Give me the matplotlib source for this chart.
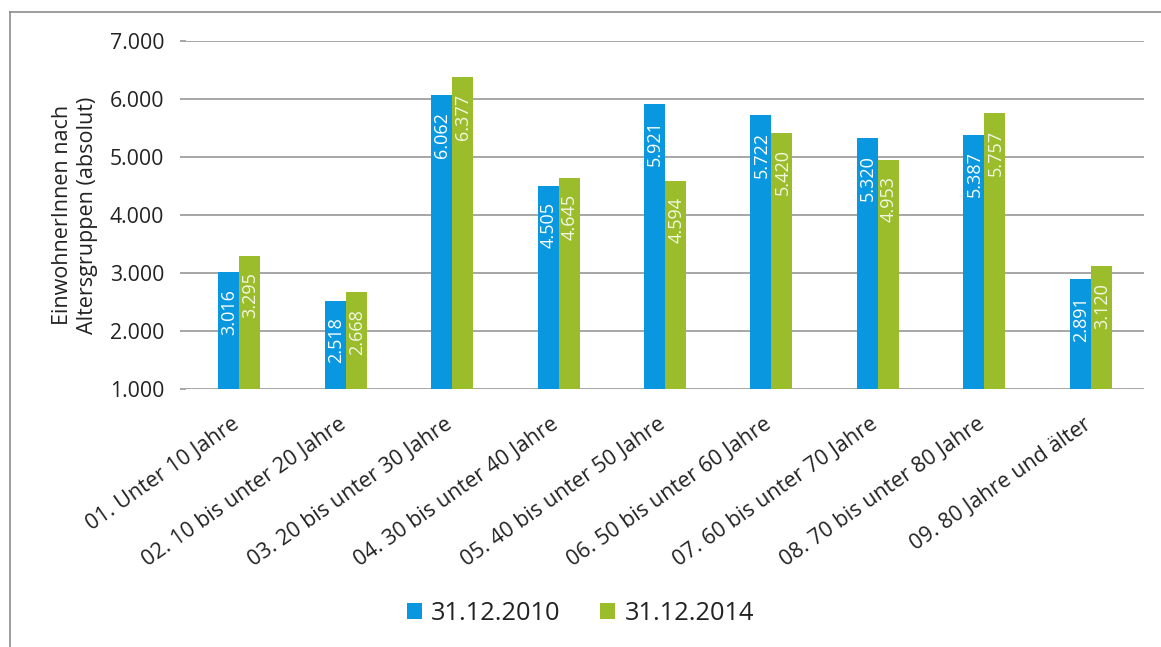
import matplotlib.pyplot as plt
import numpy as np
from matplotlib.lines import Line2D
from matplotlib.transforms import ScaledTranslation

plt.rcParams['font.family'] = ['Open Sans', 'DejaVu Sans']

categories = ['01. Unter 10 Jahre', '02. 10 bis unter 20 Jahre', '03. 20 bis unter 30 Jahre',
              '04. 30 bis unter 40 Jahre', '05. 40 bis unter 50 Jahre', '06. 50 bis unter 60 Jahre',
              '07. 60 bis unter 70 Jahre', '08. 70 bis unter 80 Jahre', '09. 80 Jahre und älter']
stand_2010 = [3016, 2518, 6062, 4505, 5921, 5722, 5320, 5387, 2891]
stand_2014 = [3295, 2668, 6377, 4645, 4594, 5420, 4953, 5757, 3120]
series_names = ['31.12.2010', '31.12.2014']
yticks = [1000, 2000, 3000, 4000, 5000, 6000, 7000]

blue = '#0998e0'
green = '#9bbd2c'
text_col = '#222222'
grid_col = '#a6a6a6'


def de_format(v):
    return f'{v:,.0f}'.replace(',', '.')


fig = plt.figure(figsize=(11.61, 6.47), dpi=100)
ax = fig.add_axes([186 / 1161, 1 - 389 / 647, (1144 - 186) / 1161, 348 / 647])

x = np.arange(len(categories))
w = 0.197
b1 = ax.bar(x - w / 2, stand_2010, w, color=blue, label=series_names[0], zorder=3)
b2 = ax.bar(x + w / 2, stand_2014, w, color=green, label=series_names[1], zorder=3)

for bars, vals, tc in ((b1, stand_2010, 'white'), (b2, stand_2014, '#f3f6e4')):
    for rect, v in zip(bars, vals):
        ax.annotate(de_format(v), (rect.get_x() + rect.get_width() / 2, v),
                    xytext=(0.5, -12), textcoords='offset points',
                    rotation=90, ha='center', va='top', fontsize=13,
                    color=tc, zorder=4)

ax.set_ylim(1000, 7000)
ax.set_xlim(-0.5, len(categories) - 0.5)
ax.set_yticks(yticks)
ax.set_yticklabels([de_format(t) for t in yticks], fontsize=15.3, color=text_col)
ax.yaxis.grid(True, color=grid_col, linewidth=1.4, zorder=0)
ax.tick_params(axis='y', length=4.3, width=1.4, color=grid_col, pad=11.5)
ax.tick_params(axis='x', length=0, pad=18)
for s in ax.spines.values():
    s.set_visible(False)

ax.set_xticks(x)
ax.set_xticklabels(categories, rotation=35, ha='right', va='top',
                   rotation_mode='anchor', fontsize=15.5, color=text_col)
shift = ScaledTranslation(-8 / 100, 0, fig.dpi_scale_trans)
for lbl in ax.get_xticklabels():
    lbl.set_transform(lbl.get_transform() + shift)

ax.set_ylabel('EinwohnerInnen nach\nAltersgruppen (absolut)', fontsize=15.5,
              color=text_col, labelpad=8, linespacing=1.25)

fig.legend(handles=[b1, b2], loc='center', bbox_to_anchor=(0.5, 0.0525), ncol=2,
           frameon=False, fontsize=18.3, handlelength=0.6, handleheight=0.6,
           handletextpad=0.35, columnspacing=1.55, labelcolor=text_col)

# outer frame
fig.add_artist(Line2D([0.0086, 1.0], [0.982, 0.982], transform=fig.transFigure,
                      color='#8c8c8c', linewidth=1.2))
fig.add_artist(Line2D([0.0086, 0.0086], [0.0, 0.982], transform=fig.transFigure,
                      color='#8c8c8c', linewidth=1.2))

fig.savefig('out.png', dpi=100)
